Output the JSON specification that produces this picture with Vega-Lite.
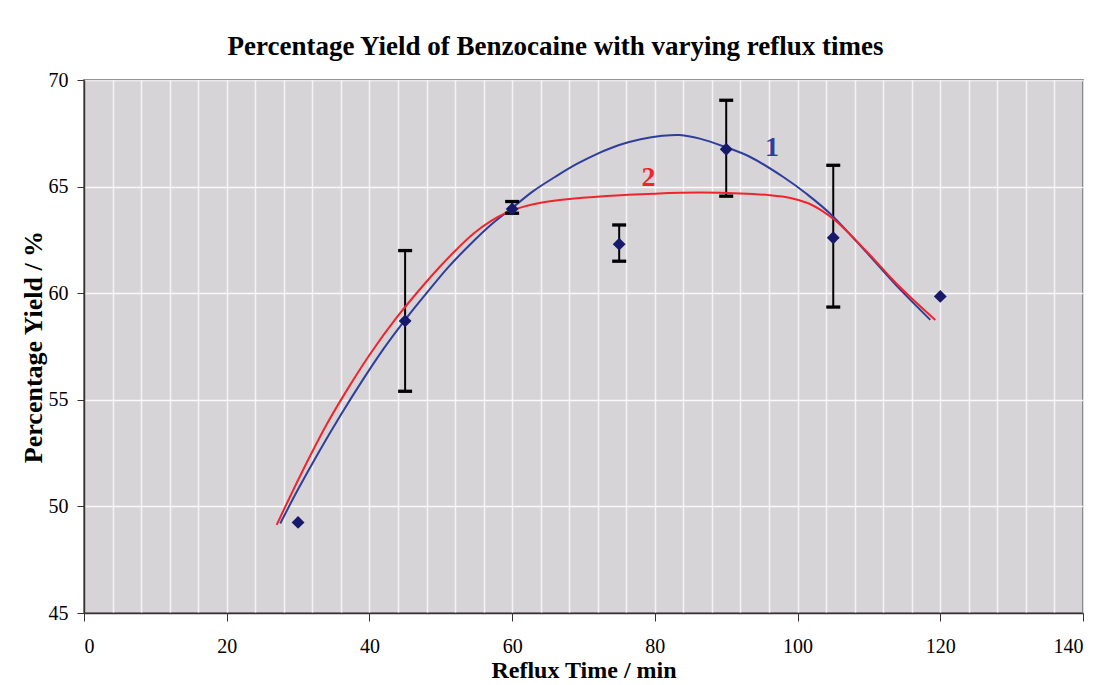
{
  "$schema": "https://vega.github.io/schema/vega-lite/v6.json",
  "width": 999,
  "height": 533,
  "autosize": {"type": "none"},
  "padding": {"left": 84, "top": 80, "right": 16, "bottom": 72},
  "background": "white",
  "title": {
    "text": "Percentage Yield of Benzocaine with varying reflux times",
    "font": "Liberation Serif",
    "fontSize": 27,
    "fontWeight": "bold",
    "color": "black",
    "anchor": "middle",
    "offset": 9,
    "dx": -28
  },
  "config": {
    "view": {"fill": "#d7d4d8", "stroke": "#4a4a5a", "strokeWidth": 1.5},
    "font": "Liberation Serif"
  },
  "resolve": {"axis": {"x": "independent"}},
  "datasets": {
    "points": [
      {"time": 30, "yield": 49.25, "lo": null, "hi": null},
      {"time": 45, "yield": 58.7, "lo": 55.4, "hi": 62.0},
      {"time": 60, "yield": 63.95, "lo": 63.75, "hi": 64.3},
      {"time": 75, "yield": 62.3, "lo": 61.5, "hi": 63.2},
      {"time": 90, "yield": 66.75, "lo": 64.55, "hi": 69.05},
      {"time": 105, "yield": 62.6, "lo": 59.35, "hi": 66.0},
      {"time": 120, "yield": 59.85, "lo": null, "hi": null}
    ],
    "curves": [
      {"curve": "1", "time": 27.5, "yield": 49.2},
      {"curve": "1", "time": 30, "yield": 50.8},
      {"curve": "1", "time": 33, "yield": 52.6},
      {"curve": "1", "time": 36, "yield": 54.3},
      {"curve": "1", "time": 39, "yield": 55.9},
      {"curve": "1", "time": 42, "yield": 57.4},
      {"curve": "1", "time": 45, "yield": 58.75},
      {"curve": "1", "time": 48, "yield": 60.0},
      {"curve": "1", "time": 51, "yield": 61.2},
      {"curve": "1", "time": 54, "yield": 62.25},
      {"curve": "1", "time": 57, "yield": 63.2},
      {"curve": "1", "time": 60, "yield": 64.0},
      {"curve": "1", "time": 63, "yield": 64.8},
      {"curve": "1", "time": 66, "yield": 65.45},
      {"curve": "1", "time": 69, "yield": 66.05},
      {"curve": "1", "time": 72, "yield": 66.55},
      {"curve": "1", "time": 75, "yield": 66.95},
      {"curve": "1", "time": 78, "yield": 67.22},
      {"curve": "1", "time": 81, "yield": 67.38},
      {"curve": "1", "time": 83.5, "yield": 67.42},
      {"curve": "1", "time": 86.3, "yield": 67.25},
      {"curve": "1", "time": 89.6, "yield": 66.89},
      {"curve": "1", "time": 93.3, "yield": 66.4},
      {"curve": "1", "time": 98, "yield": 65.45},
      {"curve": "1", "time": 101.3, "yield": 64.65},
      {"curve": "1", "time": 104.5, "yield": 63.75},
      {"curve": "1", "time": 109.7, "yield": 61.9},
      {"curve": "1", "time": 114.3, "yield": 60.2},
      {"curve": "1", "time": 118.6, "yield": 58.75},
      {"curve": "2", "time": 27.0, "yield": 49.13},
      {"curve": "2", "time": 30.3, "yield": 51.44},
      {"curve": "2", "time": 34.0, "yield": 53.84},
      {"curve": "2", "time": 37.3, "yield": 55.7},
      {"curve": "2", "time": 40.1, "yield": 57.15},
      {"curve": "2", "time": 43.8, "yield": 58.85},
      {"curve": "2", "time": 47.5, "yield": 60.35},
      {"curve": "2", "time": 49.9, "yield": 61.25},
      {"curve": "2", "time": 52.2, "yield": 62.05},
      {"curve": "2", "time": 54.6, "yield": 62.8},
      {"curve": "2", "time": 57.0, "yield": 63.38},
      {"curve": "2", "time": 59.2, "yield": 63.78},
      {"curve": "2", "time": 61.5, "yield": 64.05},
      {"curve": "2", "time": 64.0, "yield": 64.24},
      {"curve": "2", "time": 67.0, "yield": 64.38},
      {"curve": "2", "time": 73.2, "yield": 64.56},
      {"curve": "2", "time": 80.0, "yield": 64.67},
      {"curve": "2", "time": 86.3, "yield": 64.72},
      {"curve": "2", "time": 92.0, "yield": 64.68},
      {"curve": "2", "time": 96.0, "yield": 64.6},
      {"curve": "2", "time": 99.0, "yield": 64.47},
      {"curve": "2", "time": 101.5, "yield": 64.22},
      {"curve": "2", "time": 103.5, "yield": 63.85},
      {"curve": "2", "time": 105.5, "yield": 63.35},
      {"curve": "2", "time": 109.7, "yield": 61.95},
      {"curve": "2", "time": 114.3, "yield": 60.3},
      {"curve": "2", "time": 119.3, "yield": 58.74}
    ],
    "labels": [
      {"curve": "1", "time": 96.4, "yield": 66.8},
      {"curve": "2", "time": 79.1, "yield": 65.39}
    ]
  },
  "layer": [
    {
      "data": {"name": "points"},
      "transform": [{"filter": "datum.lo != null"}],
      "mark": {"type": "rule", "color": "black", "strokeWidth": 2},
      "encoding": {
        "x": {
          "field": "time",
          "type": "quantitative",
          "scale": {"domain": [0, 140], "nice": false},
          "axis": {
            "orient": "top",
            "values": [0,4,8,12,16,20,24,28,32,36,40,44,48,52,56,60,64,68,72,76,80,84,88,92,96,100,104,108,112,116,120,124,128,132,136,140],
            "grid": true,
            "gridColor": "white",
            "gridWidth": 1.5,
            "gridOpacity": 0.75,
            "labels": false,
            "ticks": false,
            "domain": false,
            "title": null
          }
        },
        "y": {
          "field": "lo",
          "type": "quantitative",
          "scale": {"domain": [45, 70], "nice": false, "zero": false},
          "axis": {
            "values": [45, 50, 55, 60, 65, 70],
            "grid": true,
            "gridColor": "white",
            "gridWidth": 1.5,
            "gridOpacity": 0.85,
            "domainColor": "#3a3030",
            "domainWidth": 1.5,
            "tickColor": "#3a3030",
            "tickSize": 7,
            "labelFont": "Liberation Serif",
            "labelFontSize": 20,
            "labelColor": "black",
            "labelPadding": 9,
            "title": "Percentage Yield / %",
            "titleFont": "Liberation Serif",
            "titleFontSize": 26,
            "titleFontWeight": "bold",
            "titleColor": "black",
            "titlePadding": 2
          }
        },
        "y2": {"field": "hi"}
      }
    },
    {
      "data": {"name": "curves"},
      "mark": {"type": "line", "interpolate": "catmull-rom", "strokeWidth": 2},
      "encoding": {
        "x": {
          "field": "time",
          "type": "quantitative",
          "axis": {
            "orient": "bottom",
            "values": [0, 20, 40, 60, 80, 100, 120, 140],
            "grid": false,
            "domainColor": "#3a3030",
            "domainWidth": 1.5,
            "tickColor": "#3a3030",
            "tickSize": 8,
            "labelFont": "Liberation Serif",
            "labelFontSize": 20,
            "labelColor": "black",
            "labelPadding": 15,
            "labelOverlap": false,
            "title": "Reflux Time / min",
            "titleFont": "Liberation Serif",
            "titleFontSize": 24,
            "titleFontWeight": "bold",
            "titleColor": "black",
            "titlePadding": 2
          }
        },
        "y": {"field": "yield", "type": "quantitative"},
        "color": {
          "field": "curve",
          "type": "nominal",
          "scale": {"domain": ["1", "2"], "range": ["#2f3d9c", "#f0242a"]},
          "legend": null
        }
      }
    },
    {
      "data": {"name": "points"},
      "transform": [{"filter": "datum.lo != null"}],
      "mark": {"type": "tick", "orient": "horizontal", "color": "black", "size": 14, "thickness": 3.3, "opacity": 1},
      "encoding": {
        "x": {"field": "time", "type": "quantitative", "axis": null},
        "y": {"field": "lo", "type": "quantitative"}
      }
    },
    {
      "data": {"name": "points"},
      "transform": [{"filter": "datum.lo != null"}],
      "mark": {"type": "tick", "orient": "horizontal", "color": "black", "size": 14, "thickness": 3.3, "opacity": 1},
      "encoding": {
        "x": {"field": "time", "type": "quantitative", "axis": null},
        "y": {"field": "hi", "type": "quantitative"}
      }
    },
    {
      "data": {"name": "points"},
      "mark": {"type": "point", "shape": "diamond", "filled": true, "color": "#17196b", "size": 165, "opacity": 1},
      "encoding": {
        "x": {"field": "time", "type": "quantitative", "axis": null},
        "y": {"field": "yield", "type": "quantitative"}
      }
    },
    {
      "data": {"name": "labels"},
      "mark": {"type": "text", "font": "Liberation Serif", "fontSize": 28, "fontWeight": "bold"},
      "encoding": {
        "x": {"field": "time", "type": "quantitative", "axis": null},
        "y": {"field": "yield", "type": "quantitative"},
        "text": {"field": "curve"},
        "color": {
          "field": "curve",
          "type": "nominal",
          "scale": {"domain": ["1", "2"], "range": ["#1f2280", "#f0242a"]},
          "legend": null
        }
      }
    }
  ]
}
